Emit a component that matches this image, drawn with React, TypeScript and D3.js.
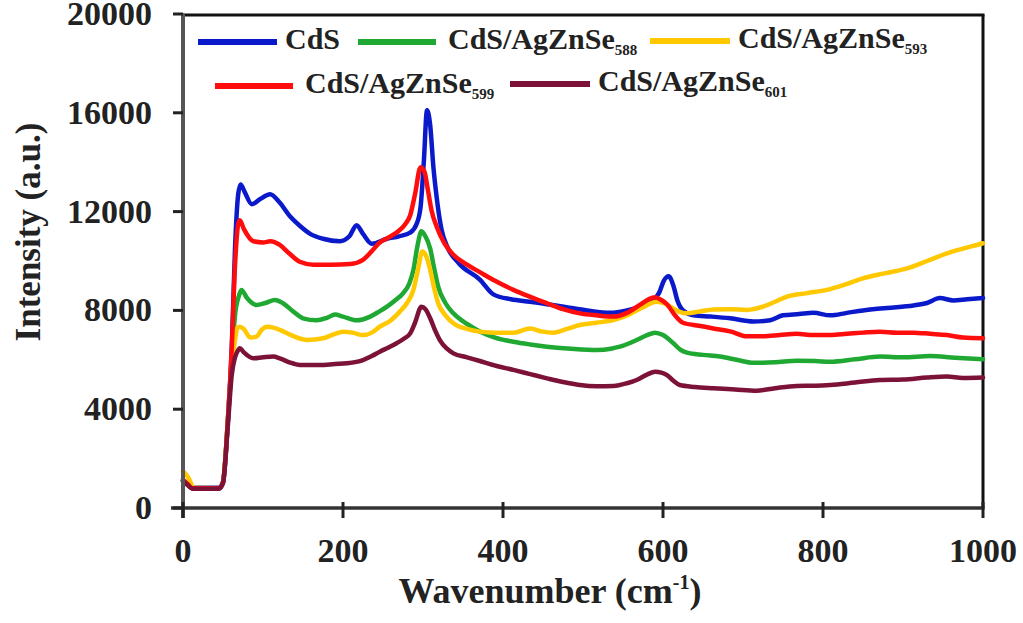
import React from "react";
import * as d3 from "d3";

// Raman spectra: [wavenumber (cm-1), intensity (a.u.)]
const cdsData: [number, number][] = [
  [0, 1100], [5, 1000], [12, 820], [45, 820], [50, 1050], [56, 3500], [61, 6500], [65, 10500],
  [69, 12700], [72, 13100], [77, 12800], [86, 12300], [96, 12500], [109, 12700], [120, 12400],
  [134, 11800], [147, 11400], [159, 11100], [175, 10900], [196, 10800], [208, 11000], [217, 11450],
  [225, 11100], [236, 10700], [255, 10900], [270, 11000], [284, 11150], [292, 11500], [297, 12200],
  [301, 14000], [305, 16100], [309, 15500], [313, 13800], [317, 12600], [323, 11300], [330, 10600],
  [345, 9900], [371, 9250], [388, 8650], [410, 8450], [434, 8350], [455, 8250], [476, 8150],
  [505, 8000], [534, 7900], [555, 8000], [571, 8150], [585, 8350], [595, 8700], [601, 9200],
  [607, 9380], [613, 9000], [618, 8400], [625, 8000], [638, 7800], [660, 7750], [684, 7680],
  [713, 7550], [734, 7600], [750, 7800], [770, 7850], [788, 7900], [809, 7800], [830, 7900],
  [850, 8000], [880, 8100], [913, 8200], [930, 8300], [946, 8500], [963, 8400], [980, 8450],
  [1000, 8500],
];

const s588Data: [number, number][] = [
  [0, 1100], [5, 1000], [12, 800], [45, 800], [50, 1050], [56, 3500], [61, 6000], [65, 7800],
  [70, 8600], [73, 8830], [80, 8500], [92, 8220], [103, 8300], [115, 8420], [125, 8290],
  [138, 7950], [150, 7680], [167, 7600], [180, 7700], [190, 7830], [200, 7750], [217, 7600],
  [234, 7750], [245, 7950], [255, 8150], [265, 8400], [275, 8690], [283, 9100], [288, 9640],
  [293, 10600], [298, 11200], [303, 11000], [309, 10500], [314, 9700], [319, 8960], [328, 8300],
  [338, 7880], [355, 7450], [371, 7150], [390, 6900], [413, 6730], [434, 6620], [455, 6530],
  [485, 6450], [517, 6400], [535, 6450], [546, 6530], [567, 6800], [580, 7000], [590, 7100],
  [600, 7000], [613, 6670], [622, 6400], [630, 6290], [650, 6200], [671, 6130], [692, 6000],
  [713, 5880], [740, 5900], [767, 5960], [790, 5950], [809, 5920], [840, 6020], [871, 6130],
  [900, 6100], [934, 6150], [965, 6080], [1000, 6020],
];

const s593Data: [number, number][] = [
  [0, 1500], [4, 1350], [8, 1150], [13, 820], [45, 800], [50, 1050], [56, 3500], [61, 5800],
  [65, 6800], [68, 7300], [71, 7340], [76, 7250], [84, 6900], [92, 6940], [98, 7200], [105, 7340],
  [113, 7300], [121, 7210], [135, 7000], [155, 6800], [175, 6870], [190, 7050], [200, 7140],
  [212, 7100], [225, 7000], [236, 7100], [246, 7340], [260, 7600], [271, 7950], [280, 8300],
  [288, 8830], [294, 9700], [299, 10380], [304, 10200], [309, 9640], [314, 8900], [319, 8290],
  [328, 7800], [338, 7480], [355, 7250], [371, 7140], [390, 7100], [413, 7100], [434, 7270],
  [448, 7150], [463, 7100], [480, 7250], [496, 7410], [517, 7500], [538, 7610], [555, 7800],
  [575, 8130], [592, 8350], [600, 8300], [609, 8150], [620, 7950], [630, 7880], [645, 7950],
  [663, 8040], [684, 8050], [705, 8020], [725, 8150], [740, 8350], [755, 8560], [780, 8700],
  [805, 8830], [828, 9050], [850, 9300], [877, 9500], [905, 9700], [930, 10000], [955, 10310],
  [975, 10500], [1000, 10720],
];

const s599Data: [number, number][] = [
  [0, 1150], [5, 1000], [12, 800], [45, 800], [50, 1050], [56, 3500], [61, 6500], [65, 9800],
  [69, 11500], [71, 11650], [76, 11300], [88, 10800], [100, 10750], [109, 10800], [121, 10650],
  [133, 10300], [146, 9970], [163, 9850], [185, 9850], [209, 9880], [225, 10050], [236, 10400],
  [246, 10750], [257, 10950], [267, 11150], [278, 11500], [284, 11850], [290, 12700], [297, 13800],
  [302, 13600], [306, 12900], [311, 12000], [317, 11400], [327, 10700], [338, 10250], [355, 9850],
  [371, 9550], [390, 9200], [413, 8830], [434, 8550], [455, 8290], [475, 8050], [496, 7880],
  [517, 7800], [538, 7750], [555, 7900], [571, 8220], [582, 8450], [590, 8530], [598, 8420],
  [605, 8250], [615, 7800], [625, 7500], [645, 7380], [663, 7270], [684, 7150], [705, 6950],
  [725, 6950], [746, 7000], [767, 7050], [788, 7000], [809, 7000], [830, 7050], [850, 7100],
  [871, 7140], [892, 7100], [913, 7100], [934, 7050], [955, 7000], [975, 6900], [1000, 6870],
];

const s601Data: [number, number][] = [
  [0, 1100], [5, 950], [12, 780], [45, 780], [50, 1000], [56, 3300], [61, 5400], [65, 6100],
  [69, 6400], [71, 6470], [76, 6300], [88, 6060], [100, 6100], [113, 6130], [121, 6060],
  [133, 5900], [146, 5790], [171, 5790], [190, 5830], [205, 5860], [225, 5990], [236, 6150],
  [246, 6330], [257, 6500], [267, 6670], [276, 6850], [284, 7070], [290, 7500], [298, 8150],
  [303, 8050], [309, 7680], [315, 7200], [321, 6800], [330, 6450], [338, 6260], [355, 6100],
  [371, 5950], [392, 5750], [413, 5590], [434, 5420], [455, 5250], [475, 5100], [496, 4980],
  [517, 4930], [538, 4940], [555, 5050], [567, 5180], [580, 5400], [590, 5520], [598, 5480],
  [605, 5380], [613, 5150], [621, 4980], [640, 4900], [663, 4850], [690, 4800], [717, 4750],
  [740, 4850], [767, 4940], [790, 4950], [809, 4980], [840, 5080], [871, 5180], [900, 5200],
  [930, 5280], [955, 5320], [975, 5260], [1000, 5280],
];

const seriesNames = ["CdS", "CdS/AgZnSe", "CdS/AgZnSe", "CdS/AgZnSe", "CdS/AgZnSe"];
const seriesSubs = ["", "588", "593", "599", "601"];
const seriesColors = ["#0a1acb", "#1fa832", "#ffc800", "#ff0d0d", "#7c1238"];
const seriesData = [cdsData, s588Data, s593Data, s599Data, s601Data];

const xTicks = [0, 200, 400, 600, 800, 1000];
const yTicks = [0, 4000, 8000, 12000, 16000, 20000];

const W = 1023;
const H = 623;
const left = 183;
const right = 983;
const top = 15;
const bottom = 508;

const SERIF = { fontFamily: "Liberation Serif" };

// legend layout: [lineX0, lineX1, textX, lineY] per entry
const legendSlots: [number, number, number, number][] = [
  [198, 277, 285, 42],
  [358, 436, 448, 42],
  [650, 730, 738, 41],
  [215, 293, 305, 86],
  [510, 590, 598, 84],
];

export default function App() {
  const x = d3.scaleLinear().domain([0, 1000]).range([left, right]);
  const y = d3.scaleLinear().domain([0, 20000]).range([bottom, top - 1]);
  const line = d3
    .line<[number, number]>()
    .x((d) => x(d[0]))
    .y((d) => y(d[1]))
    .curve(d3.curveMonotoneX);

  return (
    <svg
      width={W}
      height={H}
      style={{ position: "absolute", left: 0, top: 0, background: "#fff" }}
    >
      {/* frame */}
      <line x1={left} x2={right + 1.5} y1={top} y2={top} stroke="#111" strokeWidth={3} />
      <line x1={right} x2={right} y1={top} y2={bottom} stroke="#111" strokeWidth={3} />

      {/* spectra */}
      {seriesData.map((d, i) => (
        <path
          key={i}
          d={line(d) ?? ""}
          fill="none"
          stroke={seriesColors[i]}
          strokeWidth={4.5}
          strokeLinejoin="round"
          strokeLinecap="round"
        />
      ))}

      {/* axes */}
      <line x1={left} x2={left} y1={top - 1.5} y2={bottom + 10} stroke="#555" strokeWidth={4} />
      <line x1={left - 12} x2={right + 1.5} y1={bottom} y2={bottom} stroke="#333" strokeWidth={3.5} />

      {yTicks.map((t) => (
        <g key={"y" + t}>
          <line x1={left - 10} x2={left} y1={y(t)} y2={y(t)} stroke="#222" strokeWidth={3} />
          <text
            x={152}
            y={y(t) + 11}
            textAnchor="end"
            fontSize={34}
            fontWeight="bold"
            fill="#222"
            style={SERIF}
          >
            {t}
          </text>
        </g>
      ))}

      {xTicks.map((t) => (
        <g key={"x" + t}>
          <line x1={x(t)} x2={x(t)} y1={bottom - 6} y2={bottom + 10} stroke="#222" strokeWidth={3} />
          <text
            x={x(t)}
            y={562}
            textAnchor="middle"
            fontSize={34}
            fontWeight="bold"
            fill="#222"
            style={SERIF}
          >
            {t}
          </text>
        </g>
      ))}

      {/* axis titles */}
      <text
        x={550}
        y={603}
        textAnchor="middle"
        fontSize={36}
        fontWeight="bold"
        fill="#222"
        style={SERIF}
      >
        Wavenumber (cm
        <tspan fontSize={20} dy={-14}>
          -1
        </tspan>
        <tspan dy={14}>)</tspan>
      </text>
      <text
        transform="translate(40,232) rotate(-90)"
        textAnchor="middle"
        fontSize={35}
        fontWeight="bold"
        fill="#222"
        style={SERIF}
      >
        Intensity (a.u.)
      </text>

      {/* legend */}
      {seriesNames.map((name, i) => {
        const [x0, x1, tx, ly] = legendSlots[i];
        return (
          <g key={"lg" + i}>
            <line x1={x0} x2={x1} y1={ly} y2={ly} stroke={seriesColors[i]} strokeWidth={6} />
            <text
              x={tx}
              y={ly + 6.5}
              fontSize={30}
              fontWeight="bold"
              fill="#222"
              style={SERIF}
            >
              {name}
              {seriesSubs[i] && (
                <tspan fontSize={15} dy={6}>
                  {seriesSubs[i]}
                </tspan>
              )}
            </text>
          </g>
        );
      })}
    </svg>
  );
}
